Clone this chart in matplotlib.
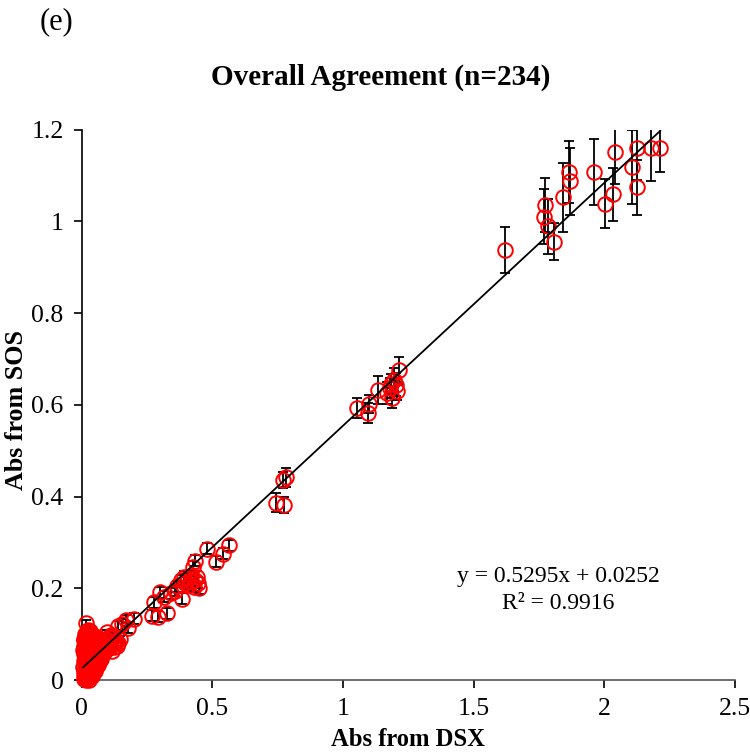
import matplotlib.pyplot as plt
from matplotlib.ticker import FuncFormatter

# Abs from DSX / Abs from SOS
# top cluster
x_top = [1.619, 1.773, 1.770, 1.786, 1.809, 1.843, 1.863, 1.869, 1.960, 2.004,
         2.032, 2.042, 2.106, 2.124, 2.124, 2.178, 2.214]
y_top = [0.938, 1.036, 1.010, 0.989, 0.956, 1.053, 1.108, 1.088, 1.107, 1.039,
         1.059, 1.151, 1.119, 1.160, 1.074, 1.159, 1.161]
e_top = [0.050, 0.058, 0.060, 0.060, 0.040, 0.075, 0.068, 0.073, 0.072, 0.053,
         0.057, 0.070, 0.080, 0.070, 0.060, 0.070, 0.054]

# middle cluster
x_mid = [1.053, 1.095, 1.099, 1.132, 1.168, 1.187, 1.204, 1.213, 1.194, 1.178,
         1.205, 1.185, 0.781, 0.771, 0.745, 0.773]
y_mid = [0.594, 0.583, 0.602, 0.633, 0.626, 0.615, 0.644, 0.675, 0.655, 0.636,
         0.630, 0.645, 0.442, 0.436, 0.387, 0.382]
e_mid = [0.022, 0.022, 0.020, 0.030, 0.025, 0.022, 0.025, 0.030, 0.025, 0.022,
         0.020, 0.022, 0.020, 0.018, 0.020, 0.018]

# lower cluster
x_low = [0.565, 0.480, 0.540, 0.515, 0.432, 0.425, 0.390, 0.405, 0.420, 0.435, 0.445,
         0.410, 0.430, 0.450, 0.395, 0.380, 0.420, 0.440, 0.382, 0.275, 0.315, 0.340,
         0.300, 0.355, 0.365, 0.270, 0.290, 0.325, 0.200, 0.168, 0.176, 0.140, 0.155]
y_low = [0.294, 0.286, 0.276, 0.258, 0.260, 0.247, 0.225, 0.222, 0.228, 0.218, 0.212,
         0.208, 0.203, 0.200, 0.212, 0.218, 0.215, 0.225, 0.177, 0.170, 0.182, 0.189,
         0.192, 0.195, 0.205, 0.140, 0.138, 0.146, 0.134, 0.130, 0.114, 0.117, 0.122]

# dense blob near the origin
x_blob = [0.008, 0.010, 0.006, 0.012, 0.009, 0.011, 0.007, 0.013, 0.010, 0.008, 0.012, 0.009,
          0.014, 0.011, 0.017, 0.015, 0.018, 0.016, 0.019, 0.015, 0.020, 0.017, 0.019, 0.016,
          0.021, 0.018, 0.020, 0.017, 0.022, 0.019,
          0.024, 0.027, 0.025, 0.029, 0.023, 0.028, 0.026, 0.030, 0.024, 0.029, 0.027, 0.031,
          0.025, 0.030, 0.028, 0.034, 0.036, 0.033, 0.038, 0.035, 0.037, 0.034, 0.039, 0.036,
          0.038, 0.035, 0.040, 0.037, 0.039, 0.033,
          0.042, 0.044, 0.041, 0.046, 0.043, 0.048, 0.045, 0.047, 0.042, 0.049, 0.044, 0.046,
          0.048, 0.052, 0.055, 0.051, 0.057, 0.053, 0.056, 0.054, 0.058, 0.052, 0.057, 0.055,
          0.059,
          0.062, 0.065, 0.061, 0.067, 0.064, 0.068, 0.063, 0.066, 0.069, 0.072, 0.075, 0.071,
          0.077, 0.074, 0.078, 0.073, 0.081, 0.084, 0.082, 0.087, 0.085, 0.089, 0.092, 0.095,
          0.098,
          0.102, 0.105, 0.110, 0.115, 0.118, 0.122, 0.128, 0.132, 0.136, 0.140, 0.145, 0.108,
          0.097, 0.113, 0.125,
          0.013, 0.022, 0.031, 0.026, 0.035, 0.041, 0.018, 0.028, 0.045, 0.032, 0.020, 0.038,
          0.050, 0.015, 0.024, 0.043, 0.053, 0.060, 0.012, 0.027, 0.036, 0.047, 0.021, 0.030,
          0.040, 0.016, 0.033, 0.050, 0.025, 0.044,
          0.010, 0.020, 0.030, 0.040, 0.015, 0.028,
          0.005, 0.007, 0.023, 0.034, 0.046, 0.058, 0.066]
y_blob = [0.012, 0.020, 0.028, 0.035, 0.042, 0.050, 0.056, 0.062, 0.068, 0.075, 0.082, 0.088,
          0.095, 0.100, 0.124, 0.008, 0.016, 0.024, 0.031, 0.039, 0.046, 0.053, 0.060, 0.066,
          0.072, 0.079, 0.085, 0.091, 0.098, 0.104,
          0.005, 0.013, 0.021, 0.029, 0.036, 0.043, 0.050, 0.057, 0.063, 0.070, 0.077, 0.083,
          0.090, 0.096, 0.103, 0.010, 0.018, 0.026, 0.033, 0.040, 0.047, 0.054, 0.061, 0.067,
          0.074, 0.081, 0.087, 0.093, 0.099, 0.107,
          0.015, 0.022, 0.030, 0.037, 0.044, 0.051, 0.058, 0.064, 0.071, 0.078, 0.084, 0.091,
          0.097, 0.020, 0.028, 0.035, 0.042, 0.049, 0.056, 0.063, 0.069, 0.076, 0.083, 0.089,
          0.095,
          0.032, 0.040, 0.047, 0.054, 0.061, 0.067, 0.074, 0.081, 0.088, 0.045, 0.052, 0.059,
          0.065, 0.072, 0.079, 0.086, 0.058, 0.064, 0.071, 0.077, 0.084, 0.090, 0.066, 0.074,
          0.081,
          0.088, 0.070, 0.076, 0.063, 0.082, 0.072, 0.078, 0.086, 0.074, 0.081, 0.090, 0.095,
          0.104, 0.099, 0.094,
          0.045, 0.058, 0.065, 0.038, 0.072, 0.055, 0.070, 0.085, 0.068, 0.048, 0.040, 0.052,
          0.061, 0.058, 0.080, 0.079, 0.070, 0.080, 0.078, 0.092, 0.060, 0.045, 0.065, 0.075,
          0.065, 0.085, 0.088, 0.085, 0.055, 0.060,
          0.002, 0.004, 0.006, 0.008, 0.000, 0.001,
          0.065, 0.090, 0.110, 0.034, 0.030, 0.050, 0.072]

slope = 0.5295
intercept = 0.0252
r2 = 0.9916

x_all = x_top + x_mid + x_low + x_blob
y_all = y_top + y_mid + y_low + y_blob
e_all = e_top + e_mid + [0.012] * len(x_low) + [0.006] * len(x_blob)

plt.rcParams['font.family'] = ['Liberation Serif', 'DejaVu Serif']

fig = plt.figure(figsize=(7.5, 7.54), dpi=100)
ax = fig.add_axes([0.109, 0.098, 0.871, 0.730])

ax.errorbar(x_all, y_all, yerr=e_all, fmt='none', ecolor='black', elinewidth=1.3,
            capsize=3.5, capthick=1.3, zorder=2)
ax.plot(x_all, y_all, 'o', mfc='none', mec='red', ms=10.5, mew=1.4, clip_on=False, zorder=3)

# linear trendline
xl = [min(x_all), max(x_all)]
ax.plot(xl, [slope * v + intercept for v in xl], color='black', lw=1.3, zorder=4)

ax.set_xlim(0, 2.5)
ax.set_ylim(0, 1.2)
ax.set_xticks([0, 0.5, 1, 1.5, 2, 2.5])
ax.set_yticks([0, 0.2, 0.4, 0.6, 0.8, 1, 1.2])
fmt = FuncFormatter(lambda v, p: f'{v:g}')
ax.xaxis.set_major_formatter(fmt)
ax.yaxis.set_major_formatter(fmt)
ax.tick_params(direction='out', length=6, width=1.2, labelsize=18.5, pad=7)
ax.spines['top'].set_visible(False)
ax.spines['right'].set_visible(False)
ax.spines['left'].set_linewidth(1.2)
ax.spines['bottom'].set_linewidth(1.2)
ax.spines['bottom'].set_color('#555555')

ax.set_xlabel('Abs from DSX', fontsize=17.7, fontweight='bold', labelpad=6)
ax.set_ylabel('Abs from SOS', fontsize=18.7, fontweight='bold')
ax.yaxis.set_label_coords(-0.082, 0.49)

fig.text(0.507, 0.897, 'Overall Agreement (n=234)', fontsize=21, fontweight='bold',
         ha='center', va='center')

ax.text(0.729, 0.164, f'y = {slope}x + {intercept}\nR² = {r2}', transform=ax.transAxes,
        ha='center', va='center', fontsize=17, linespacing=1.35)

fig.text(0.053, 0.99, '(e)', fontsize=22, ha='left', va='top')

fig.savefig('out.png', dpi=100)
